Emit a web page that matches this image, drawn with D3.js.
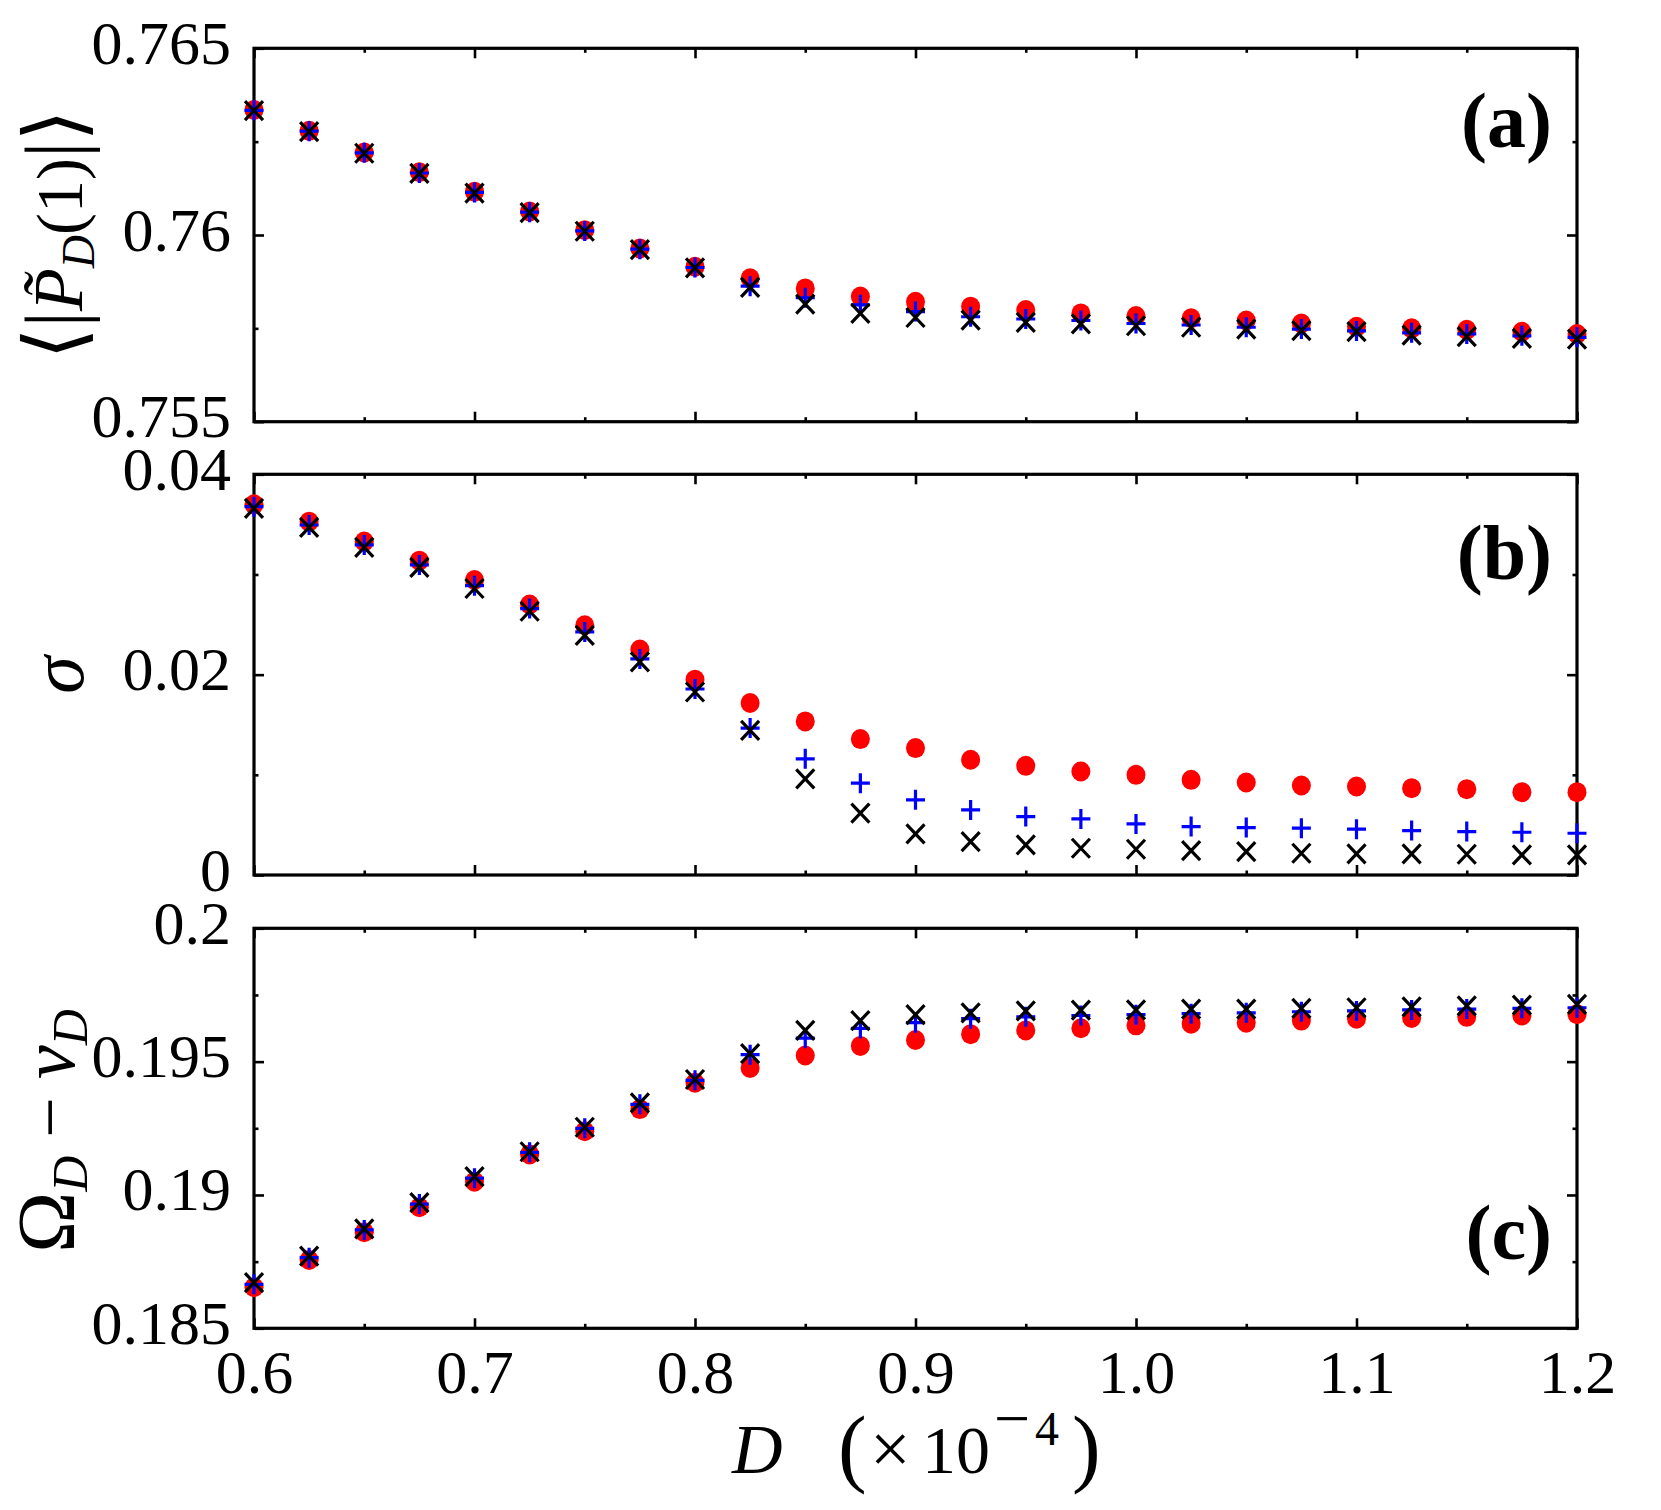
<!DOCTYPE html>
<html>
<head>
<meta charset="utf-8">
<script src="https://cdn.jsdelivr.net/npm/d3@7"></script>
<style>
  body { margin: 0; background: #fff; }
  svg text { font-family: "Liberation Serif", "DejaVu Serif", serif; fill: #000; }
</style>
</head>
<body>
<div id="chart"></div>
<script>
// DATOS: D (x10^-4) Y TRES SERIES POR PANEL
const D = [0.6, 0.625, 0.65, 0.675, 0.7, 0.725, 0.75, 0.775, 0.8, 0.825, 0.85, 0.875, 0.9,
           0.925, 0.95, 0.975, 1.0, 1.025, 1.05, 1.075, 1.1, 1.125, 1.15, 1.175, 1.2];

// panel (a)  <|P_D(1)|>
const aRed   = [0.76335, 0.76279, 0.76221, 0.76168, 0.76116, 0.76063, 0.76013, 0.75964, 0.75915, 0.75884, 0.75857, 0.75835, 0.75821,
                0.75808, 0.75799, 0.75790, 0.75783, 0.75777, 0.75771, 0.75763, 0.75754, 0.75750, 0.75746, 0.75741, 0.75735];
const aBlue  = [0.76334, 0.76278, 0.76220, 0.76166, 0.76114, 0.76061, 0.76011, 0.75962, 0.75913, 0.75863, 0.75832, 0.75813, 0.75795,
                0.75781, 0.75775, 0.75771, 0.75763, 0.75759, 0.75753, 0.75748, 0.75743, 0.75738, 0.75735, 0.75730, 0.75726];
const aBlack = [0.76333, 0.76277, 0.76219, 0.76165, 0.76112, 0.76060, 0.76010, 0.75961, 0.75912, 0.75860, 0.75815, 0.75790, 0.75779,
                0.75772, 0.75766, 0.75762, 0.75757, 0.75753, 0.75748, 0.75744, 0.75741, 0.75732, 0.75728, 0.75723, 0.75721];

// panel (b)  sigma
const bRed   = [0.03700, 0.03527, 0.03328, 0.03138, 0.02945, 0.02700, 0.02493, 0.02250, 0.01950, 0.01717, 0.01533, 0.01357, 0.01267,
                0.01150, 0.01090, 0.01033, 0.01000, 0.00950, 0.00923, 0.00893, 0.00883, 0.00867, 0.00857, 0.00827, 0.00827];
const bBlue  = [0.03677, 0.03494, 0.03295, 0.03095, 0.02888, 0.02660, 0.02427, 0.02157, 0.01857, 0.01467, 0.01160, 0.00917, 0.00750,
                0.00650, 0.00583, 0.00560, 0.00510, 0.00483, 0.00473, 0.00467, 0.00457, 0.00443, 0.00433, 0.00427, 0.00417];
const bBlack = [0.03660, 0.03470, 0.03270, 0.03070, 0.02860, 0.02633, 0.02393, 0.02127, 0.01827, 0.01443, 0.00960, 0.00617, 0.00410,
                0.00333, 0.00300, 0.00267, 0.00257, 0.00243, 0.00233, 0.00217, 0.00210, 0.00210, 0.00207, 0.00200, 0.00200];

// panel (c)  Omega_D - nu_D
const cRed   = [0.18654, 0.18756, 0.18860, 0.18954, 0.19050, 0.19152, 0.19239, 0.19322, 0.19421, 0.19476, 0.19523, 0.19559, 0.19581,
                0.19603, 0.19617, 0.19625, 0.19636, 0.19642, 0.19646, 0.19654, 0.19661, 0.19664, 0.19668, 0.19673, 0.19678];
const cBlue  = [0.18665, 0.18765, 0.18869, 0.18966, 0.19063, 0.19160, 0.19250, 0.19340, 0.19430, 0.19526, 0.19588, 0.19625, 0.19646,
                0.19661, 0.19668, 0.19673, 0.19676, 0.19680, 0.19683, 0.19687, 0.19690, 0.19694, 0.19697, 0.19700, 0.19702];
const cBlack = [0.18671, 0.18771, 0.18873, 0.18971, 0.19069, 0.19162, 0.19254, 0.19345, 0.19433, 0.19530, 0.19617, 0.19654, 0.19676,
                0.19683, 0.19690, 0.19693, 0.19694, 0.19697, 0.19697, 0.19700, 0.19702, 0.19705, 0.19709, 0.19712, 0.19715];

// TICKS
const xMajor = [0.6, 0.7, 0.8, 0.9, 1.0, 1.1, 1.2];
const xMinor = [0.65, 0.75, 0.85, 0.95, 1.05, 1.15];
const xLabels = ["0.6", "0.7", "0.8", "0.9", "1.0", "1.1", "1.2"];
const aTicks = [0.755, 0.76, 0.765], aLabels = ["0.755", "0.76", "0.765"], aMinor = [0.7575, 0.7625];
const bTicks = [0, 0.02, 0.04], bLabels = ["0", "0.02", "0.04"], bMinor = [0.01, 0.03];
const cTicks = [0.185, 0.19, 0.195, 0.2], cLabels = ["0.185", "0.19", "0.195", "0.2"], cMinor = [0.1875, 0.1925, 0.1975];

// MEDIDAS
const svgWidth = 1661, svgHeight = 1510;
const left = 254, right = 1577;

let svg = d3.select("#chart").append("svg")
    .attr("width", svgWidth)
    .attr("height", svgHeight);

let xScale = d3.scaleLinear().domain([0.6, 1.2]).range([left, right]);

const panels = [
    { top: 48.3, bottom: 421.7, domain: [0.755, 0.765], ticks: aTicks, labels: aLabels, minor: aMinor,
      red: aRed, blue: aBlue, black: aBlack, tag: "(a)", tagY: 147 },
    { top: 474.3, bottom: 875, domain: [0, 0.04], ticks: bTicks, labels: bLabels, minor: bMinor,
      red: bRed, blue: bBlue, black: bBlack, tag: "(b)", tagY: 579 },
    { top: 928.3, bottom: 1328.3, domain: [0.185, 0.2], ticks: cTicks, labels: cLabels, minor: cMinor,
      red: cRed, blue: cBlue, black: cBlack, tag: "(c)", tagY: 1259, xlabels: true }
];

function styleAxis(g) {
    g.select(".domain").remove();
    g.attr("font-size", 62);
    g.selectAll("line").attr("stroke", "#000").attr("stroke-width", 2.6);
}

panels.forEach(p => {
    let yScale = d3.scaleLinear().domain(p.domain).range([p.bottom, p.top]);
    let g = svg.append("g");

    // EJE Y IZQUIERDO CON ETIQUETAS
    g.append("g").attr("transform", `translate(${left},0)`)
        .call(d3.axisLeft(yScale).tickValues(p.ticks).tickSize(-10).tickPadding(23)
            .tickFormat((d, i) => p.labels[i]))
        .call(styleAxis)
        .selectAll("text").attr("dy", 0).attr("y", 15);
    g.append("g").attr("transform", `translate(${left},0)`)
        .call(d3.axisLeft(yScale).tickValues(p.minor).tickSize(-4.5).tickFormat(""))
        .call(styleAxis);
    // EJE Y DERECHO (ESPEJO)
    g.append("g").attr("transform", `translate(${right},0)`)
        .call(d3.axisRight(yScale).tickValues(p.ticks).tickSize(-10).tickFormat(""))
        .call(styleAxis);
    g.append("g").attr("transform", `translate(${right},0)`)
        .call(d3.axisRight(yScale).tickValues(p.minor).tickSize(-4.5).tickFormat(""))
        .call(styleAxis);

    // EJES X ARRIBA Y ABAJO
    let bottomAxis = g.append("g").attr("transform", `translate(0,${p.bottom})`)
        .call(d3.axisBottom(xScale).tickValues(xMajor).tickSize(-10)
            .tickFormat((d, i) => p.xlabels ? xLabels[i] : ""))
        .call(styleAxis);
    bottomAxis.selectAll("text").attr("dy", 0).attr("y", 64.7);
    g.append("g").attr("transform", `translate(0,${p.bottom})`)
        .call(d3.axisBottom(xScale).tickValues(xMinor).tickSize(-4.5).tickFormat(""))
        .call(styleAxis);
    g.append("g").attr("transform", `translate(0,${p.top})`)
        .call(d3.axisTop(xScale).tickValues(xMajor).tickSize(-10).tickFormat(""))
        .call(styleAxis);
    g.append("g").attr("transform", `translate(0,${p.top})`)
        .call(d3.axisTop(xScale).tickValues(xMinor).tickSize(-4.5).tickFormat(""))
        .call(styleAxis);

    // MARCO
    g.append("rect")
        .attr("x", left).attr("y", p.top)
        .attr("width", right - left).attr("height", p.bottom - p.top)
        .attr("fill", "none").attr("stroke", "#000").attr("stroke-width", 3.2);

    // CIRCULOS ROJOS
    g.append("g").selectAll("ellipse")
        .data(D.map((d, i) => [d, p.red[i]]))
        .enter().append("ellipse")
        .attr("cx", d => xScale(d[0]))
        .attr("cy", d => yScale(d[1]))
        .attr("rx", 9.5).attr("ry", 10)
        .attr("fill", "#ff0000");

    // CRUCES AZULES (+)
    g.append("g").selectAll("path")
        .data(D.map((d, i) => [d, p.blue[i]]))
        .enter().append("path")
        .attr("transform", d => `translate(${xScale(d[0])},${yScale(d[1])})`)
        .attr("d", "M-9.5,0H9.5M0,-10V10")
        .attr("stroke", "#0000ff").attr("stroke-width", 3.2).attr("fill", "none");

    // EQUIS NEGRAS (x)
    g.append("g").selectAll("path")
        .data(D.map((d, i) => [d, p.black[i]]))
        .enter().append("path")
        .attr("transform", d => `translate(${xScale(d[0])},${yScale(d[1])})`)
        .attr("d", "M-9,-9.5L9,9.5M-9,9.5L9,-9.5")
        .attr("stroke", "#000").attr("stroke-width", 3.2).attr("fill", "none");

    // ETIQUETA DEL PANEL
    g.append("text")
        .attr("x", 1552).attr("y", p.tagY)
        .attr("text-anchor", "end")
        .attr("font-size", 78).attr("font-weight", "bold")
        .text(p.tag);
});

// ETIQUETAS DE LOS EJES Y
let la = svg.append("text")
    .attr("transform", "translate(82,234.5) rotate(-90)")
    .attr("text-anchor", "middle")
    .attr("font-size", 66);
la.append("tspan").attr("font-size", 82).text("\u27E8");
la.append("tspan").attr("font-size", 82).text("|");
la.append("tspan").attr("font-style", "italic").attr("font-size", 70).text("P\u0303");
la.append("tspan").attr("font-style", "italic").attr("font-size", 46).attr("dy", 12).text("D");
la.append("tspan").attr("dy", -12).text("(1)");
la.append("tspan").attr("font-size", 82).text("|");
la.append("tspan").attr("font-size", 82).text("\u27E9");

svg.append("text")
    .attr("transform", "translate(83,675) rotate(-90)")
    .attr("text-anchor", "middle")
    .attr("font-size", 76).attr("font-style", "italic")
    .text("\u03C3");

let lc = svg.append("text")
    .attr("transform", "translate(74,1131) rotate(-90)")
    .attr("text-anchor", "middle")
    .attr("font-size", 72);
lc.append("tspan").attr("font-size", 82).text("\u03A9");
lc.append("tspan").attr("font-style", "italic").attr("font-size", 50).attr("dy", 13).text("D");
lc.append("tspan").attr("dy", -13).text(" \u2212 ");
lc.append("tspan").attr("font-style", "italic").attr("font-size", 76).text("\u03BD");
lc.append("tspan").attr("font-style", "italic").attr("font-size", 50).attr("dy", 13).text("D");

// ETIQUETA DEL EJE X
let lx = svg.append("text").attr("font-size", 68);
lx.append("tspan").attr("x", 732).attr("y", 1473).attr("font-style", "italic").attr("font-size", 70).text("D");
lx.append("tspan").attr("x", 838).attr("y", 1476).attr("font-size", 86).text("(");
lx.append("tspan").attr("x", 870).attr("y", 1473).attr("font-size", 72).text("\u00D7");
lx.append("tspan").attr("x", 922).attr("y", 1473).text("10");
lx.append("tspan").attr("x", 994).attr("y", 1440).attr("font-size", 64).text("\u2212");
lx.append("tspan").attr("x", 1035).attr("y", 1445).attr("font-size", 48).text("4");
lx.append("tspan").attr("x", 1072).attr("y", 1476).attr("font-size", 86).text(")");
</script>
</body>
</html>
